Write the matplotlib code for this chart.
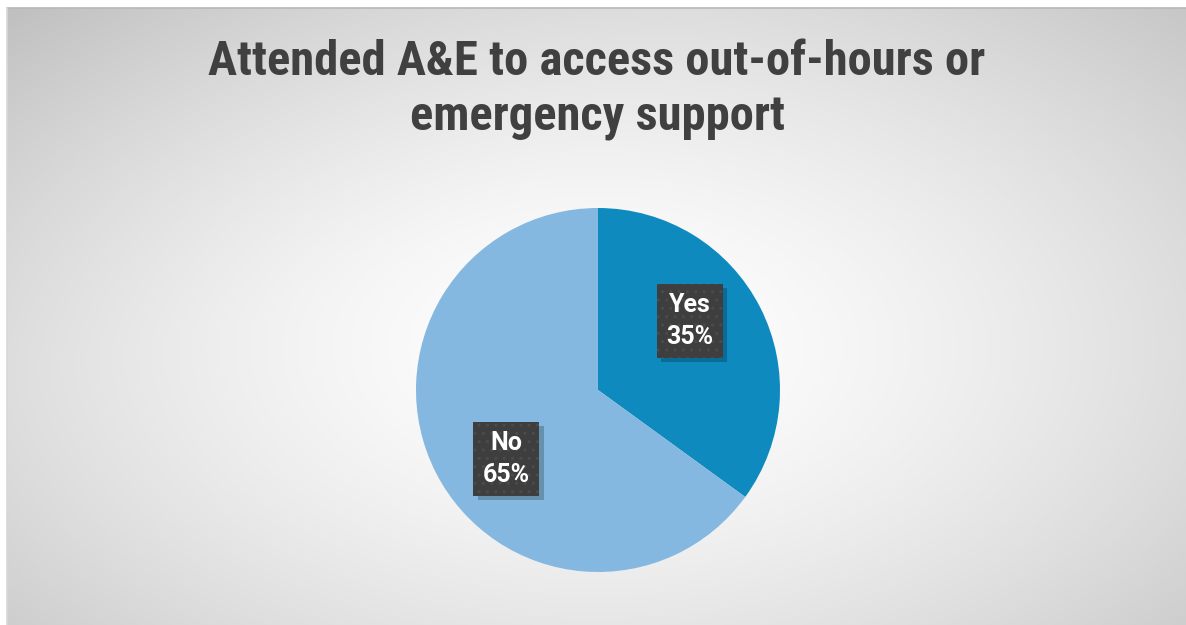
import numpy as np
import matplotlib.pyplot as plt
import matplotlib.patheffects as pe
from matplotlib.patches import Rectangle

# Survey responses
labels = ['Yes', 'No']
shares = [35, 65]
colours = ['#0E8ABF', '#85B8E0']

title = 'Attended A&E to access out-of-hours or\nemergency support'

narrow = ['Roboto Condensed', 'Archivo Narrow', 'PT Sans Narrow',
          'Liberation Sans Narrow', 'Sofia Sans Condensed', 'DejaVu Sans']
label_font = ['Roboto', 'Liberation Sans', 'DejaVu Sans']

W, H = 1186, 625
fig = plt.figure(figsize=(W / 100, H / 100), dpi=100)
fig.patch.set_facecolor('white')

# Chart area with a soft radial gradient, white in the middle, grey at the edges
bg = fig.add_axes([7 / W, 0, (W - 7) / W, (H - 8) / H])
yy, xx = np.mgrid[0:1:300j, 0:1:600j]
dist = np.sqrt(((xx - 0.5) / 0.5) ** 2 + ((yy - 0.55) / 0.55) ** 2) / np.sqrt(2)
shade = 1.0 - 0.22 * np.clip(dist, 0, 1) ** 1.5
# slightly darker towards the top-left corner
shade -= 0.03 * np.clip((1 - xx) * (1 - yy) - 0.4, 0, 1) / 0.6
bg.imshow(np.dstack([shade] * 3), extent=[0, 1, 0, 1], aspect='auto', origin='upper',
          vmin=0, vmax=1)
bg.set_axis_off()
bg.plot([0, 1], [1, 1], color='#B8B8B8', lw=1.2, transform=bg.transAxes, clip_on=False)
bg.plot([0, 0], [0, 1], color='#D8D8D8', lw=1.2, transform=bg.transAxes, clip_on=False)

fig.text(597 / W, 1 - 90 / H, title, ha='center', va='center', fontsize=35,
         fontweight='bold', color='#404040', family=narrow, linespacing=1.27)

# Pie, radius 182 px centred at (598, 390)
cx, cy, r = 598, 390, 182
ax = fig.add_axes([(cx - r) / W, (H - cy - r) / H, 2 * r / W, 2 * r / H])
wedges, _ = ax.pie(shares, colors=colours, startangle=90, counterclock=False,
                   radius=1, wedgeprops=dict(linewidth=0))
ax.set_xlim(-1, 1)
ax.set_ylim(-1, 1)
ax.set_aspect('equal')
ax.set_axis_off()

label_kw = dict(ha='center', va='center', fontsize=18, fontweight='bold',
                linespacing=1.4, family=label_font)

# Data labels: dark box with a soft shadow, a faint dot texture, then the text
boxes = []
for w, lab, v in zip(wedges, labels, shares):
    mid = np.deg2rad((w.theta1 + w.theta2) / 2 + 10)
    x, y = 0.63 * np.cos(mid), 0.63 * np.sin(mid)
    s = f'{lab}\n{v}%'
    box = ax.text(x, y, s, color='none', zorder=4, **label_kw,
                  bbox=dict(boxstyle='square,pad=0.38', facecolor='#3E3E3E',
                            linewidth=0))
    box.get_bbox_patch().set_path_effects([
        pe.SimplePatchShadow(offset=(3, -3), alpha=0.22, shadow_rgbFace='black'),
        pe.Normal()])
    ax.text(x, y, s, color='white', zorder=6, **label_kw)
    boxes.append(box)

fig.canvas.draw()
for box in boxes:
    ext = box.get_bbox_patch().get_window_extent()
    ax.add_patch(Rectangle((ext.x0, ext.y0), ext.width, ext.height, transform=None,
                           facecolor='none', edgecolor='#4B4B4B', linewidth=0,
                           hatch='..', zorder=5, clip_on=False))

fig.savefig('out.png', dpi=100)
